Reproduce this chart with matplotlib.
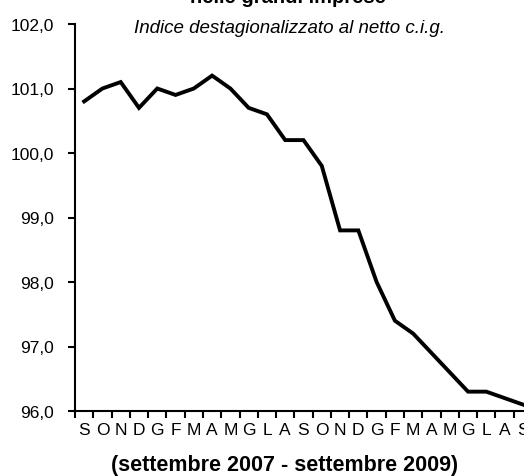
import matplotlib
matplotlib.use('Agg')
import matplotlib.pyplot as plt
from matplotlib.ticker import FuncFormatter

# mesi da settembre 2007 a settembre 2009
mesi = ['S', 'O', 'N', 'D', 'G', 'F', 'M', 'A', 'M', 'G', 'L', 'A',
        'S', 'O', 'N', 'D', 'G', 'F', 'M', 'A', 'M', 'G', 'L', 'A', 'S']
indice = [100.8, 101.0, 101.1, 100.7, 101.0, 100.9, 101.0, 101.2, 101.0,
          100.7, 100.6, 100.2, 100.2, 99.8, 98.8, 98.8, 98.0, 97.4, 97.2,
          96.9, 96.6, 96.3, 96.3, 96.2, 96.1]
yticks = [96, 97, 98, 99, 100, 101, 102]

plain = ['Liberation Sans', 'DejaVu Sans']

fig = plt.figure(figsize=(5.24, 4.77), dpi=100)
ax = fig.add_axes([75 / 524, 1 - 412 / 477, 457 / 524, 387 / 477])

x = list(range(len(indice)))
ax.plot(x, indice, color='black', linewidth=2.8, solid_joinstyle='miter')

ax.set_xlim(-0.5, len(mesi) - 0.5)
ax.set_ylim(96, 102)

for s in ['top', 'right']:
    ax.spines[s].set_visible(False)
for s in ['left', 'bottom']:
    ax.spines[s].set_linewidth(1.5)

# tacche tra i mesi, etichette al centro
ax.set_xticks([i - 0.5 for i in range(len(mesi) + 1)])
ax.set_xticklabels([])
ax.set_xticks(x, minor=True)
ax.set_xticklabels(mesi, minor=True, family=plain, fontsize=12.5)
ax.tick_params(axis='x', which='major', direction='out', length=5, width=1.5)
ax.tick_params(axis='x', which='minor', length=0, pad=8)

ax.set_yticks(yticks)
ax.yaxis.set_major_formatter(FuncFormatter(lambda v, p: f'{v:.1f}'.replace('.', ',')))
ax.tick_params(axis='y', direction='out', length=5, width=1.5, pad=10)
for lab in ax.get_yticklabels():
    lab.set_family(plain)
    lab.set_fontsize(12.5)

fig.text(0.55, 0.993, 'nelle grandi imprese', ha='center', va='baseline',
         family=plain, fontsize=14.5, fontweight='bold')
fig.text(0.553, 1 - 33 / 477, 'Indice destagionalizzato al netto c.i.g.',
         ha='center', va='baseline', family=plain, fontsize=13.5, style='italic')
fig.text(0.543, 1 - 471 / 477, '(settembre 2007 - settembre 2009)',
         ha='center', va='baseline', family=plain, fontsize=15.5, fontweight='bold')

fig.savefig('out.png', dpi=100)
